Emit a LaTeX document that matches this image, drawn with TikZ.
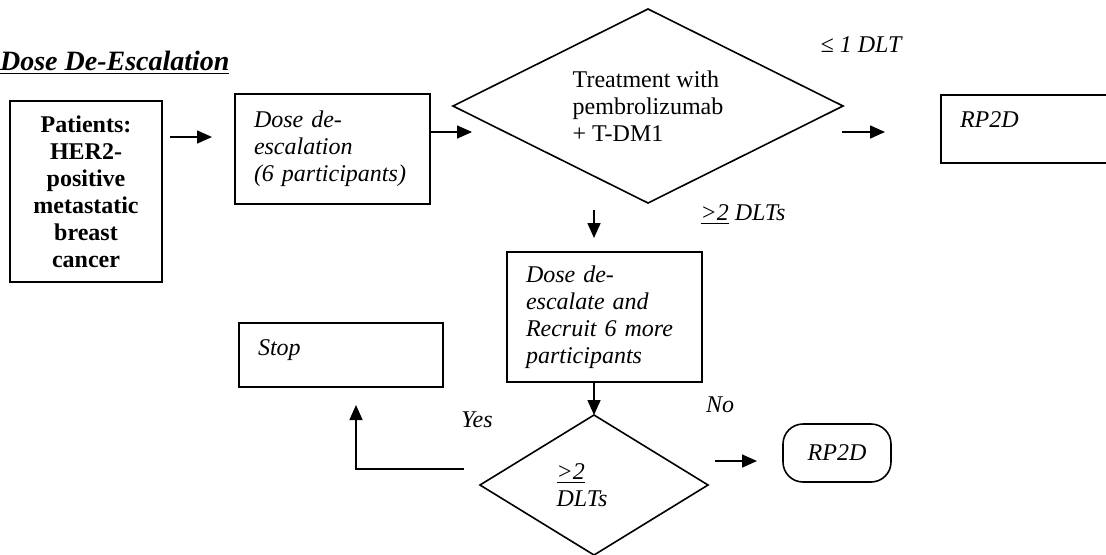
\documentclass[tikz,border=0pt]{standalone}
\usepackage{fontspec}
\setmainfont{Liberation Serif}
\usetikzlibrary{shapes.geometric, arrows.meta}

\begin{document}
\begin{tikzpicture}[x=0.5pt, y=-0.5pt,
    txt/.style={font=\fontsize{12}{13.5}\selectfont},
    box/.style={txt, draw, line width=0.8pt, rectangle, outer sep=0pt},
    leftbox/.style={box, align=left, inner xsep=9.5pt},
    decision/.style={txt, draw, line width=0.8pt, diamond, inner sep=0pt, outer sep=0pt},
    arr/.style={line width=0.8pt, -{Triangle[length=7.5pt, width=6.5pt]}}]
    \clip (0,0) rectangle (1106,554);
    % title
    \node[txt, anchor=base west, font=\fontsize{14}{16}\selectfont\bfseries\itshape] (title) at (-7,70) {\underline{Dose De-Escalation}};
    % boxes
    \node[box, line width=0.9pt, align=center, font=\fontsize{12}{13.5}\selectfont\bfseries,
      minimum width=76pt, minimum height=90.5pt] (patients) at (86,191.5)
      {Patients:\\HER2-\\positive\\metastatic\\breast\\cancer};
    \node[leftbox, text width=78.5pt, minimum height=55pt, font=\fontsize{12}{13.5}\selectfont\itshape] (dosebox) at (332.5,149)
      {Dose de-\\escalation\\(6 participants)};
    \node[decision, align=left, shape aspect=2, minimum width=195pt, minimum height=97pt] (treat) at (648,106)
      {Treatment with\\pembrolizumab\\+ T-DM1};
    \node[leftbox, text width=81pt, inner ysep=7pt, text height=9pt, text depth=11pt, font=\fontsize{12}{13.5}\selectfont\itshape] (rpa) at (1041,129) {RP2D};
    \node[leftbox, text width=78.5pt, minimum height=65pt, font=\fontsize{12}{13.5}\selectfont\itshape] (desc2) at (604.5,317)
      {Dose de-\\escalate and\\Recruit 6 more\\participants};
    \node[decision, align=left, minimum width=114pt, minimum height=70pt, font=\fontsize{12}{13.5}\selectfont\itshape] (dlt) at (594,485)
      {\underline{>2}\\DLTs\hspace*{12pt}};
    \node[leftbox, text width=83pt, inner ysep=7pt, text height=9pt, text depth=9pt, font=\fontsize{12}{13.5}\selectfont\itshape] (stop) at (341,355) {Stop};
    \node[box, rounded corners=10pt, minimum width=54pt, minimum height=29pt, font=\fontsize{12}{13.5}\selectfont\itshape] (rpb) at (837,453) {RP2D};
    % labels
    \node[txt, font=\fontsize{12}{13.5}\selectfont\itshape] (lblone) at (861,45) {≤ 1 DLT};
    \node[txt, font=\fontsize{12}{13.5}\selectfont\itshape] (lbltwo) at (743,215) {\underline{>2} DLTs};
    \node[txt, font=\fontsize{12}{13.5}\selectfont\itshape] (lblyes) at (477,420) {Yes};
    \node[txt, font=\fontsize{12}{13.5}\selectfont\itshape] (lblno) at (720,405) {No};
    % arrows
    \draw[arr] ([shift={(8,-54.5)}]patients.east) -- ([shift={(-23,-12)}]dosebox.west);
    \draw[arr] ([shift={(0,-17)}]dosebox.east) -- ([shift={(19,26)}]treat.west);
    \draw[arr] ([shift={(-1,26)}]treat.east) -- ([shift={(-56,3)}]rpa.west);
    \draw[arr] ([shift={(-54,7)}]treat.south) -- ([shift={(-10.5,-14)}]desc2.north);
    \draw[arr] ([shift={(-10.5,0)}]desc2.south) -- (dlt.north);
    \draw[arr] ([shift={(7,-24)}]dlt.east) -- ([shift={(-26,8)}]rpb.west);
    \draw[arr] ([shift={(-16,-16)}]dlt.west) -| ([shift={(15,18)}]stop.south);
\end{tikzpicture}
\end{document}
